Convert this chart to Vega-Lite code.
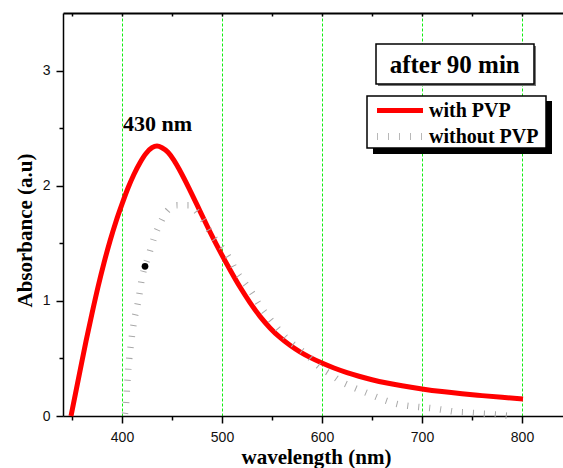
{
  "$schema": "https://vega.github.io/schema/vega-lite/v6.json",
  "width": 501,
  "height": 403,
  "autosize": {"type": "none"},
  "padding": {"left": 63, "top": 13, "right": 0, "bottom": 52},
  "background": "white",
  "config": {"view": {"stroke": null}},
  "datasets": {
    "withPVP": [
      {"wavelength": 349, "absorbance": 0},
      {"wavelength": 352, "absorbance": 0.13},
      {"wavelength": 358, "absorbance": 0.39},
      {"wavelength": 364, "absorbance": 0.65},
      {"wavelength": 370, "absorbance": 0.89},
      {"wavelength": 376, "absorbance": 1.12},
      {"wavelength": 382, "absorbance": 1.33},
      {"wavelength": 388, "absorbance": 1.52},
      {"wavelength": 394, "absorbance": 1.69},
      {"wavelength": 400, "absorbance": 1.84},
      {"wavelength": 406, "absorbance": 1.98},
      {"wavelength": 412, "absorbance": 2.1},
      {"wavelength": 418, "absorbance": 2.2},
      {"wavelength": 424, "absorbance": 2.28},
      {"wavelength": 430, "absorbance": 2.33},
      {"wavelength": 435, "absorbance": 2.345},
      {"wavelength": 440, "absorbance": 2.33},
      {"wavelength": 446, "absorbance": 2.29},
      {"wavelength": 452, "absorbance": 2.22},
      {"wavelength": 458, "absorbance": 2.13},
      {"wavelength": 468, "absorbance": 1.96},
      {"wavelength": 478, "absorbance": 1.78},
      {"wavelength": 488, "absorbance": 1.6},
      {"wavelength": 498, "absorbance": 1.43},
      {"wavelength": 508, "absorbance": 1.27},
      {"wavelength": 518, "absorbance": 1.12},
      {"wavelength": 528, "absorbance": 0.985},
      {"wavelength": 538, "absorbance": 0.865},
      {"wavelength": 548, "absorbance": 0.765},
      {"wavelength": 558, "absorbance": 0.682},
      {"wavelength": 568, "absorbance": 0.614},
      {"wavelength": 578, "absorbance": 0.557},
      {"wavelength": 588, "absorbance": 0.509},
      {"wavelength": 600, "absorbance": 0.46},
      {"wavelength": 612, "absorbance": 0.417},
      {"wavelength": 625, "absorbance": 0.377},
      {"wavelength": 637, "absorbance": 0.345},
      {"wavelength": 650, "absorbance": 0.315},
      {"wavelength": 665, "absorbance": 0.286},
      {"wavelength": 680, "absorbance": 0.262},
      {"wavelength": 700, "absorbance": 0.235},
      {"wavelength": 720, "absorbance": 0.212},
      {"wavelength": 740, "absorbance": 0.193},
      {"wavelength": 760, "absorbance": 0.177},
      {"wavelength": 780, "absorbance": 0.162},
      {"wavelength": 801, "absorbance": 0.148}
    ],
    "withoutPVP": [
      {"wavelength": 403, "absorbance": 0.02},
      {"wavelength": 404, "absorbance": 0.1},
      {"wavelength": 405, "absorbance": 0.24},
      {"wavelength": 406.5, "absorbance": 0.43},
      {"wavelength": 409, "absorbance": 0.63},
      {"wavelength": 412, "absorbance": 0.82},
      {"wavelength": 416.5, "absorbance": 1.01},
      {"wavelength": 420, "absorbance": 1.2},
      {"wavelength": 426.5, "absorbance": 1.39},
      {"wavelength": 433, "absorbance": 1.57},
      {"wavelength": 438, "absorbance": 1.67},
      {"wavelength": 445, "absorbance": 1.78},
      {"wavelength": 455, "absorbance": 1.83},
      {"wavelength": 467, "absorbance": 1.83},
      {"wavelength": 478, "absorbance": 1.74},
      {"wavelength": 491, "absorbance": 1.56},
      {"wavelength": 501, "absorbance": 1.45},
      {"wavelength": 508, "absorbance": 1.36},
      {"wavelength": 514, "absorbance": 1.26},
      {"wavelength": 521.5, "absorbance": 1.17},
      {"wavelength": 530, "absorbance": 1.07},
      {"wavelength": 537, "absorbance": 0.97},
      {"wavelength": 550, "absorbance": 0.82},
      {"wavelength": 565, "absorbance": 0.67},
      {"wavelength": 585, "absorbance": 0.53},
      {"wavelength": 597, "absorbance": 0.43},
      {"wavelength": 609, "absorbance": 0.36},
      {"wavelength": 619, "absorbance": 0.3},
      {"wavelength": 631, "absorbance": 0.25},
      {"wavelength": 642, "absorbance": 0.21},
      {"wavelength": 653, "absorbance": 0.17},
      {"wavelength": 665, "absorbance": 0.13},
      {"wavelength": 677, "absorbance": 0.1},
      {"wavelength": 687, "absorbance": 0.087},
      {"wavelength": 699, "absorbance": 0.076},
      {"wavelength": 710, "absorbance": 0.067},
      {"wavelength": 722, "absorbance": 0.052},
      {"wavelength": 733, "absorbance": 0.037},
      {"wavelength": 745, "absorbance": 0.03},
      {"wavelength": 756, "absorbance": 0.023},
      {"wavelength": 768, "absorbance": 0.017},
      {"wavelength": 779, "absorbance": 0.009},
      {"wavelength": 788, "absorbance": 0}
    ],
    "dot": [{"wavelength": 423, "absorbance": 1.3}]
  },
  "resolve": {"axis": {"x": "independent"}},
  "layer": [
    {
      "data": {"name": "withPVP"},
      "mark": {"type": "line", "color": "#ff0000", "strokeWidth": 5, "interpolate": "monotone"},
      "encoding": {
        "x": {
          "field": "wavelength", "type": "quantitative",
          "scale": {"domain": [341, 842], "nice": false, "zero": false},
          "axis": {
            "orient": "bottom",
            "values": [350, 400, 450, 500, 550, 600, 650, 700, 750, 800],
            "labelExpr": "datum.value % 100 === 0 ? datum.label : ''",
            "labelOverlap": false,
            "grid": true,
            "gridColor": "#11ee11",
            "gridDash": [3, 2],
            "gridWidth": 1,
            "gridOpacity": {"condition": {"test": "datum.value % 100 === 0", "value": 1}, "value": 0},
            "tickSize": {"condition": {"test": "datum.value % 100 === 0", "value": 7}, "value": 4},
            "tickColor": "black", "tickWidth": 1.5,
            "domainColor": "black", "domainWidth": 1.5,
            "labelFont": "Liberation Sans", "labelFontSize": 14, "labelColor": "#111111", "labelPadding": 7,
            "title": "wavelength (nm)",
            "titleFont": "Liberation Serif", "titleFontWeight": "bold", "titleFontSize": 21, "titleColor": "black",
            "titleX": 253, "titleY": 47, "titleBaseline": "alphabetic", "titleAlign": "center"
          }
        },
        "y": {
          "field": "absorbance", "type": "quantitative",
          "scale": {"domain": [0, 3.5], "nice": false, "zero": false},
          "axis": {
            "values": [0, 0.5, 1, 1.5, 2, 2.5, 3],
            "labelExpr": "datum.value % 1 === 0 ? format(datum.value, 'd') : ''",
            "labelOverlap": false,
            "grid": false,
            "tickSize": {"condition": {"test": "datum.value % 1 === 0", "value": 7}, "value": 4},
            "tickColor": "black", "tickWidth": 1.5,
            "domainColor": "black", "domainWidth": 1.5,
            "labelFont": "Liberation Sans", "labelFontSize": 14, "labelColor": "#111111", "labelPadding": 6,
            "title": "Absorbance (a.u)",
            "titleFont": "Liberation Serif", "titleFontWeight": "bold", "titleFontSize": 21, "titleColor": "black",
            "titleAngle": -90, "titleX": -32, "titleY": 217, "titleBaseline": "alphabetic", "titleAlign": "center"
          }
        }
      }
    },
    {
      "data": {"name": "withoutPVP"},
      "mark": {"type": "line", "color": "#a8a8a8", "strokeWidth": 6.5, "strokeDash": [1, 10], "interpolate": "monotone"},
      "encoding": {
        "x": {
          "field": "wavelength", "type": "quantitative",
          "axis": {
            "orient": "top",
            "values": [350, 400, 450, 500, 550, 600, 650, 700, 750, 800],
            "labels": false, "grid": false, "title": null,
            "tickSize": -3, "tickColor": "black", "tickWidth": 1.5,
            "domainColor": "black", "domainWidth": 2
          }
        },
        "y": {"field": "absorbance", "type": "quantitative"}
      }
    },
    {
      "data": {"name": "dot"},
      "mark": {"type": "point", "filled": true, "color": "black", "size": 45, "opacity": 1},
      "encoding": {
        "x": {"field": "wavelength", "type": "quantitative", "axis": null},
        "y": {"field": "absorbance", "type": "quantitative"}
      }
    },
    {
      "data": {"values": [{"label": "430 nm"}]},
      "mark": {"type": "text", "font": "Liberation Serif", "fontWeight": "bold", "fontSize": 22, "align": "center", "baseline": "alphabetic", "color": "black"},
      "encoding": {
        "x": {"datum": 435.5, "type": "quantitative", "axis": null},
        "y": {"datum": 2.478, "type": "quantitative"},
        "text": {"field": "label"}
      }
    },
    {
      "data": {"values": [{"label": "box"}]},
      "mark": {"type": "rect", "color": "#777777"},
      "encoding": {
        "x": {"datum": 656, "type": "quantitative", "axis": null},
        "x2": {"datum": 814},
        "y": {"datum": 3.214, "type": "quantitative"},
        "y2": {"datum": 2.866}
      }
    },
    {
      "data": {"values": [{"label": "box"}]},
      "mark": {"type": "rect", "fill": "white", "stroke": "black", "strokeWidth": 1.5},
      "encoding": {
        "x": {"datum": 654, "type": "quantitative", "axis": null},
        "x2": {"datum": 812},
        "y": {"datum": 3.231, "type": "quantitative"},
        "y2": {"datum": 2.883}
      }
    },
    {
      "data": {"values": [{"label": "after 90 min"}]},
      "mark": {"type": "text", "font": "Liberation Serif", "fontWeight": "bold", "fontSize": 25, "align": "center", "baseline": "alphabetic", "color": "black"},
      "encoding": {
        "x": {"datum": 732.7, "type": "quantitative", "axis": null},
        "y": {"datum": 2.976, "type": "quantitative"},
        "text": {"field": "label"}
      }
    },
    {
      "data": {"values": [{"label": "shadow"}]},
      "mark": {"type": "rect", "color": "black"},
      "encoding": {
        "x": {"datum": 651, "type": "quantitative", "axis": null},
        "x2": {"datum": 830},
        "y": {"datum": 2.736, "type": "quantitative"},
        "y2": {"datum": 2.275}
      }
    },
    {
      "data": {"values": [{"label": "legend"}]},
      "mark": {"type": "rect", "fill": "white", "stroke": "black", "strokeWidth": 1.5},
      "encoding": {
        "x": {"datum": 645, "type": "quantitative", "axis": null},
        "x2": {"datum": 824},
        "y": {"datum": 2.779, "type": "quantitative"},
        "y2": {"datum": 2.328}
      }
    },
    {
      "data": {"values": [{"label": "with PVP"}]},
      "mark": {"type": "rule", "color": "#ff0000", "strokeWidth": 5},
      "encoding": {
        "x": {"datum": 655, "type": "quantitative", "axis": null},
        "x2": {"datum": 701},
        "y": {"datum": 2.653, "type": "quantitative"}
      }
    },
    {
      "data": {"values": [{"label": "without PVP"}]},
      "mark": {"type": "rule", "color": "#b8b8b8", "strokeWidth": 7, "strokeDash": [1, 10]},
      "encoding": {
        "x": {"datum": 655, "type": "quantitative", "axis": null},
        "x2": {"datum": 701},
        "y": {"datum": 2.428, "type": "quantitative"}
      }
    },
    {
      "data": {"values": [{"label": "with PVP"}]},
      "mark": {"type": "text", "font": "Liberation Serif", "fontWeight": "bold", "fontSize": 20, "align": "left", "baseline": "alphabetic", "color": "black"},
      "encoding": {
        "x": {"datum": 707, "type": "quantitative", "axis": null},
        "y": {"datum": 2.594, "type": "quantitative"},
        "text": {"field": "label"}
      }
    },
    {
      "data": {"values": [{"label": "without PVP"}]},
      "mark": {"type": "text", "font": "Liberation Serif", "fontWeight": "bold", "fontSize": 20, "align": "left", "baseline": "alphabetic", "color": "black"},
      "encoding": {
        "x": {"datum": 707, "type": "quantitative", "axis": null},
        "y": {"datum": 2.374, "type": "quantitative"},
        "text": {"field": "label"}
      }
    }
  ]
}
